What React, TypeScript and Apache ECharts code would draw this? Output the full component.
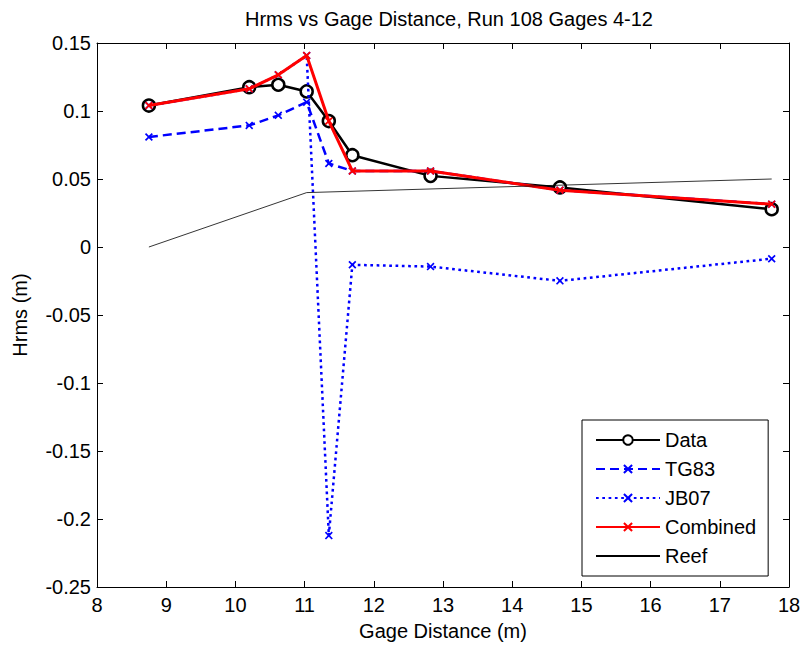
import React, { useEffect, useRef } from "react";
import * as echarts from "echarts";

const gageX = [8.75, 10.2, 10.62, 11.03, 11.35, 11.69, 12.82, 14.69, 17.75];
const dataHrms = [0.104, 0.1175, 0.1193, 0.1144, 0.0926, 0.0675, 0.0523, 0.0438, 0.0278];
const tg83 = [0.0809, 0.0894, 0.0968, 0.1065, 0.0614, 0.0559, 0.0559, 0.0418, 0.0315];
const jb07 = [0.104, 0.1163, 0.1266, 0.1408, -0.2122, -0.0131, -0.0144, -0.0249, -0.0086];
const combined = [0.104, 0.1163, 0.1266, 0.1408, 0.0926, 0.0559, 0.0559, 0.0418, 0.0315];
const reefX = [8.75, 11.03, 17.75];
const reefY = [0, 0.04, 0.05];

const FONT = "Liberation Sans, Arial, sans-serif";
const CROSS = "path://M0,1.5L1.5,0L5,3.5L8.5,0L10,1.5L6.5,5L10,8.5L8.5,10L5,6.5L1.5,10L0,8.5L3.5,5Z";

const pairs = (xs: number[], ys: number[]) => xs.map((x, i) => [x, ys[i]]);

export default function App() {
  const ref = useRef<HTMLDivElement>(null);
  useEffect(() => {
    document.body.style.margin = "0";
    const chart = echarts.init(ref.current!, undefined, { renderer: "svg" });
    const xBase = { type: "value", min: 8, max: 18, interval: 1 } as any;
    const yBase = { type: "value", min: -0.25, max: 0.15, interval: 0.05 } as any;
    const axisLine = { show: true, onZero: false, lineStyle: { color: "#000", width: 1 } };
    const axisTick = { show: true, inside: true, length: 6, lineStyle: { color: "#000", width: 1 } };
    chart.setOption({
      animation: false,
      backgroundColor: "#fff",
      title: {
        text: "Hrms vs Gage Distance, Run 108 Gages 4-12",
        left: 444,
        top: 4,
        textAlign: "center",
        textStyle: { fontFamily: FONT, fontSize: 20, fontWeight: "normal", color: "#000" },
      },
      grid: { left: 97, right: 17, top: 43, bottom: 62, containLabel: false },
      xAxis: [
        {
          ...xBase,
          position: "bottom",
          name: "Gage Distance (m)",
          nameLocation: "middle",
          nameGap: 34,
          nameTextStyle: { fontFamily: FONT, fontSize: 20, color: "#000" },
          axisLine,
          axisTick,
          axisLabel: { fontFamily: FONT, fontSize: 20, color: "#000", margin: 8 },
          splitLine: { show: false },
        },
        {
          ...xBase,
          position: "top",
          axisLine,
          axisTick,
          axisLabel: { show: false },
          splitLine: { show: false },
        },
      ],
      yAxis: [
        {
          ...yBase,
          position: "left",
          name: "Hrms (m)",
          nameLocation: "middle",
          nameGap: 67,
          nameTextStyle: { fontFamily: FONT, fontSize: 20, color: "#000" },
          axisLine,
          axisTick,
          axisLabel: { fontFamily: FONT, fontSize: 20, color: "#000", margin: 6 },
          splitLine: { show: false },
        },
        {
          ...yBase,
          position: "right",
          axisLine,
          axisTick,
          axisLabel: { show: false },
          splitLine: { show: false },
        },
      ],
      legend: {
        orient: "vertical",
        left: 582,
        top: 420,
        backgroundColor: "#fff",
        borderColor: "#000",
        borderWidth: 1,
        borderRadius: 0,
        padding: [10, 12, 10, 13],
        itemWidth: 64,
        itemHeight: 12,
        itemGap: 9,
        textStyle: { fontFamily: FONT, fontSize: 20, color: "#000", lineHeight: 20 },
        data: [
          "Data",
          "TG83",
          "JB07",
          "Combined",
          { name: "Reef", itemStyle: { color: "rgba(0,0,0,0)", borderWidth: 0, opacity: 0 } },
        ],
      },
      series: [
        {
          name: "Data",
          type: "line",
          data: pairs(gageX, dataHrms),
          symbol: "circle",
          symbolSize: 12,
          showAllSymbol: true,
          lineStyle: { color: "#000", width: 2.5 },
          itemStyle: { color: "#fff", borderColor: "#000", borderWidth: 2.5 },
          z: 2,
        },
        {
          name: "TG83",
          type: "line",
          data: pairs(gageX, tg83),
          symbol: CROSS,
          symbolSize: 8,
          lineStyle: { color: "#0000ff", width: 2.5, type: [9, 5] },
          itemStyle: { color: "#0000ff" },
          z: 3,
        },
        {
          name: "JB07",
          type: "line",
          data: pairs(gageX, jb07),
          symbol: CROSS,
          symbolSize: 8,
          lineStyle: { color: "#0000ff", width: 2.5, type: [2.7, 3.6] },
          itemStyle: { color: "#0000ff" },
          z: 4,
        },
        {
          name: "Combined",
          type: "line",
          data: pairs(gageX, combined),
          symbol: CROSS,
          symbolSize: 8,
          lineStyle: { color: "#ff0000", width: 3 },
          itemStyle: { color: "#ff0000" },
          z: 5,
        },
        {
          name: "Reef",
          type: "line",
          data: pairs(reefX, reefY),
          symbol: "none",
          lineStyle: { color: "#000", width: 0.8 },
          itemStyle: { color: "#000" },
          z: 6,
        },
      ],
    });
    return () => chart.dispose();
  }, []);
  return <div ref={ref} style={{ width: 806, height: 649 }} />;
}
